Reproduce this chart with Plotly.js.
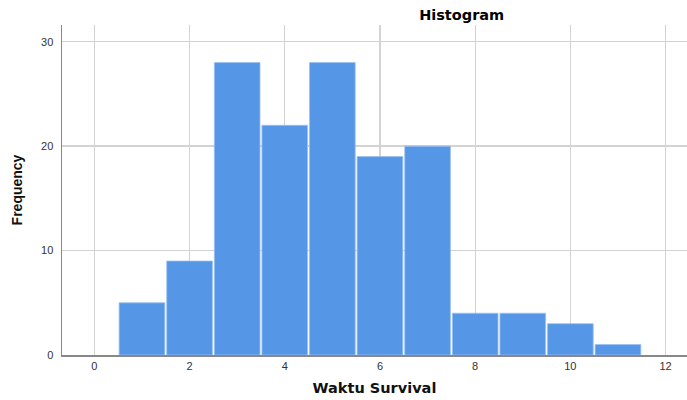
<!DOCTYPE html>
<html>
<head>
<meta charset="utf-8">
<script src="https://cdn.plot.ly/plotly-3.0.1.min.js"></script>
<style>html,body{margin:0;padding:0;background:#fff;}#chart{width:687px;height:400px;}</style>
</head>
<body>
<div id="chart"></div>
<script>
const binCenters = [1, 2, 3, 4, 5, 6, 7, 8, 9, 10, 11];
const frequencies = [5, 9, 28, 22, 28, 19, 20, 4, 4, 3, 1];
const xTicks = [0, 2, 4, 6, 8, 10, 12];
const yTicks = [0, 10, 20, 30];

const trace = {
  type: 'bar',
  x: binCenters,
  y: frequencies,
  width: 0.96,
  marker: {color: '#5596E6', line: {color: '#9cc2f0', width: 0.8}},
  hoverinfo: 'skip'
};

const layout = {
  width: 687, height: 400,
  margin: {l: 62, r: 0, t: 25, b: 45},
  paper_bgcolor: '#fff', plot_bgcolor: '#fff',
  showlegend: false,
  title: {text: 'Histogram', x: 0.672, xref: 'container', xanchor: 'center', y: 0.975, yanchor: 'top',
          font: {family: 'DejaVu Sans', size: 14.5, color: '#000', weight: 'bold'}},
  xaxis: {
    range: [-0.68, 12.45], tickvals: xTicks, ticktext: xTicks.map(String),
    showgrid: true, gridcolor: '#d3d3d3', gridwidth: 1.3,
    showline: true, linecolor: '#888', linewidth: 1.5,
    ticks: '', zeroline: false,
    tickfont: {family: 'Liberation Sans, Arial', size: 11, color: '#333'},
    title: {text: 'Waktu Survival', standoff: 12, font: {family: 'DejaVu Sans', size: 14.5, color: '#111', weight: 'bold'}}
  },
  yaxis: {
    range: [0, 31.6], tickvals: yTicks, ticktext: yTicks.map(String),
    showgrid: true, gridcolor: '#d3d3d3', gridwidth: 1.3,
    showline: true, linecolor: '#888', linewidth: 1.5,
    ticks: 'outside', ticklen: 5, tickcolor: 'rgba(0,0,0,0)', zeroline: false,
    tickfont: {family: 'Liberation Sans, Arial', size: 11, color: '#333'},
    title: {text: 'Frequency', standoff: 15, font: {family: 'Liberation Sans, Arial', size: 14, color: '#111', weight: 'bold'}}
  }
};

Plotly.newPlot('chart', [trace], layout, {displayModeBar: false, staticPlot: true});
</script>
</body>
</html>
